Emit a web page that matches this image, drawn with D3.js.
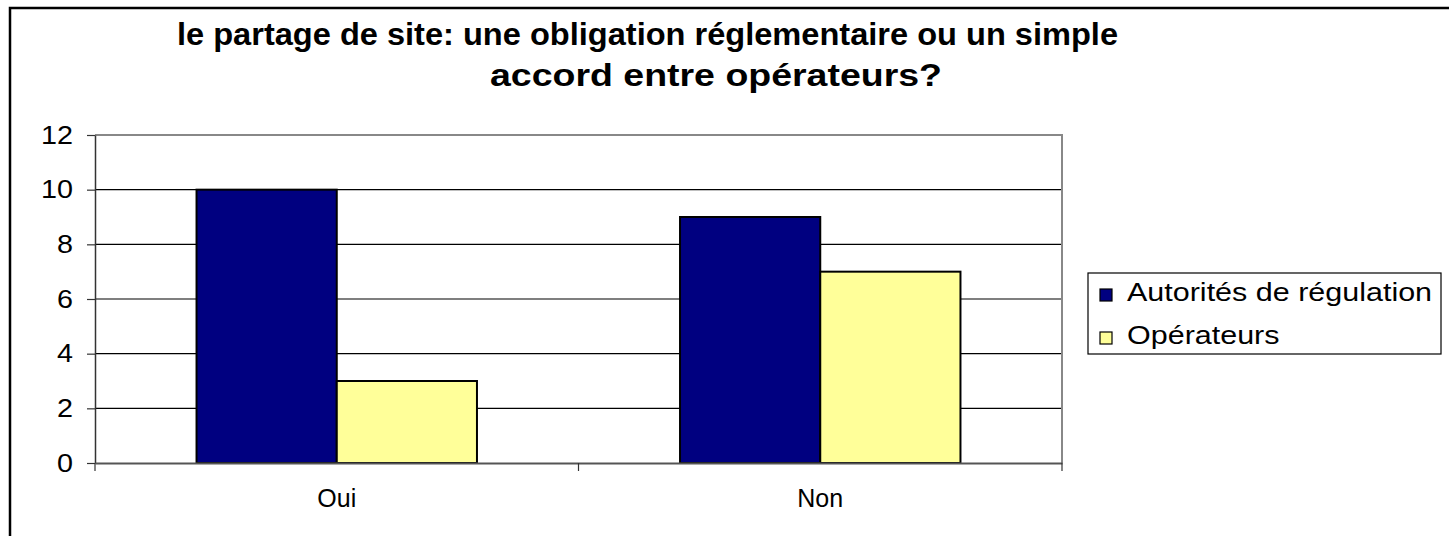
<!DOCTYPE html>
<html>
<head>
<meta charset="utf-8">
<script src="https://cdnjs.cloudflare.com/ajax/libs/d3/7.8.5/d3.min.js"></script>
<style>
  body { margin: 0; background: #fff; }
  text { font-family: "Liberation Sans", Arial, sans-serif; fill: #000; }
</style>
</head>
<body>
<div id="chart"></div>
<script>
// data
var categories = ["Oui", "Non"];
var seriesNames = ["Autorités de régulation", "Opérateurs"];
var autorites = [10, 9];
var operateurs = [3, 7];
var yTicks = [0, 2, 4, 6, 8, 10, 12];
var titleLines = ["le partage de site: une obligation réglementaire ou un simple", "accord entre opérateurs?"];
var colors = ["#000080", "#FFFF99"];

var W = 1449, H = 536;
var plot = {left: 95, right: 1062, top: 135, bottom: 463};

var svg = d3.select("#chart").append("svg")
    .attr("width", W)
    .attr("height", H);

// outer frame
svg.append("rect")
    .attr("x", 10).attr("y", 8)
    .attr("width", W + 20).attr("height", H + 20)
    .attr("fill", "#fff")
    .attr("stroke", "#000")
    .attr("stroke-width", 2.5);

// title - the original is a bit stretched, so fit each line to its width
var titlePos = [{x: 177, y: 45, w: 941}, {x: 490, y: 86, w: 452}];
svg.append("g").selectAll("text")
    .data(titleLines)
  .enter().append("text")
    .attr("x", function(d, i) { return titlePos[i].x; })
    .attr("y", function(d, i) { return titlePos[i].y; })
    .attr("textLength", function(d, i) { return titlePos[i].w; })
    .attr("lengthAdjust", "spacingAndGlyphs")
    .style("font-weight", "bold").style("font-size", "31px")
    .text(function(d) { return d; });

var x0 = d3.scaleBand()
    .domain(categories)
    .range([plot.left, plot.right])
    .paddingInner(0.42)
    .paddingOuter(0.21);

var x1 = d3.scaleBand()
    .domain(seriesNames)
    .range([0, x0.bandwidth()]);

var y = d3.scaleLinear()
    .domain([0, 12])
    .range([plot.bottom, plot.top]);

// gridlines
svg.append("g").selectAll("line")
    .data(yTicks.filter(function(d) { return d > 0 && d < 12; }))
  .enter().append("line")
    .attr("x1", plot.left).attr("x2", plot.right)
    .attr("y1", function(d) { return y(d); })
    .attr("y2", function(d) { return y(d); })
    .attr("stroke", "#000")
    .attr("stroke-width", 1.2);

// plot area border (top + right)
svg.append("path")
    .attr("d", "M" + plot.left + "," + y(12) + "H" + plot.right + "V" + y(0))
    .attr("fill", "none")
    .attr("stroke", "#888")
    .attr("stroke-width", 2);

// bars
var rows = categories.map(function(c, i) {
  return {cat: c, values: [autorites[i], operateurs[i]]};
});

var groups = svg.append("g").selectAll("g")
    .data(rows)
  .enter().append("g")
    .attr("transform", function(d) { return "translate(" + x0(d.cat) + ",0)"; });

groups.selectAll("rect")
    .data(function(d) { return d.values.map(function(v, j) { return {name: seriesNames[j], value: v, j: j}; }); })
  .enter().append("rect")
    .attr("x", function(d) { return x1(d.name); })
    .attr("y", function(d) { return y(d.value); })
    .attr("width", x1.bandwidth())
    .attr("height", function(d) { return y(0) - y(d.value); })
    .attr("fill", function(d) { return colors[d.j]; })
    .attr("stroke", "#000")
    .attr("stroke-width", 2);

// y axis
var yAxis = svg.append("g")
    .attr("transform", "translate(" + plot.left + ",0)")
    .call(d3.axisLeft(y).tickValues(yTicks).tickSize(8).tickPadding(14).tickSizeOuter(0));
yAxis.select(".domain").attr("stroke", "#333").attr("stroke-width", 1.5);
yAxis.selectAll(".tick line").attr("stroke", "#333").attr("stroke-width", 1.2);
yAxis.selectAll("text").style("font-size", "25px").attr("fill", "#000")
    .attr("transform", function() {
      // slight horizontal stretch like the original
      return "translate(" + (-d3.select(this).attr("x") * 0.15) + ",0) scale(1.15,1)";
    });

// x axis
var xAxis = svg.append("g")
    .attr("transform", "translate(0," + plot.bottom + ")")
    .call(d3.axisBottom(x0).tickSize(0).tickPadding(26));
xAxis.select(".domain").attr("stroke", "#555").attr("stroke-width", 2);
xAxis.selectAll("text").style("font-size", "25px").attr("fill", "#000");

// category separators ticks
var sepX = [plot.left, (plot.left + plot.right) / 2, plot.right];
svg.append("g").selectAll("line")
    .data(sepX)
  .enter().append("line")
    .attr("x1", function(d) { return d; }).attr("x2", function(d) { return d; })
    .attr("y1", plot.bottom).attr("y2", plot.bottom + 8)
    .attr("stroke", "#333").attr("stroke-width", 1.2);

// legend
var legend = svg.append("g").attr("transform", "translate(1088,273)");
legend.append("rect")
    .attr("width", 353).attr("height", 81)
    .attr("fill", "#fff").attr("stroke", "#000").attr("stroke-width", 1.2);
var li = legend.selectAll("g.item")
    .data(seriesNames)
  .enter().append("g")
    .attr("class", "item")
    .attr("transform", function(d, i) { return "translate(12," + (16 + i * 43) + ")"; });
li.append("rect")
    .attr("width", 12).attr("height", 12)
    .attr("fill", function(d, i) { return colors[i]; })
    .attr("stroke", "#000").attr("stroke-width", 1.2);
li.append("text")
    .attr("transform", "translate(27,12) scale(1.22,1)")
    .style("font-size", "25px")
    .text(function(d) { return d; });
</script>
</body>
</html>
